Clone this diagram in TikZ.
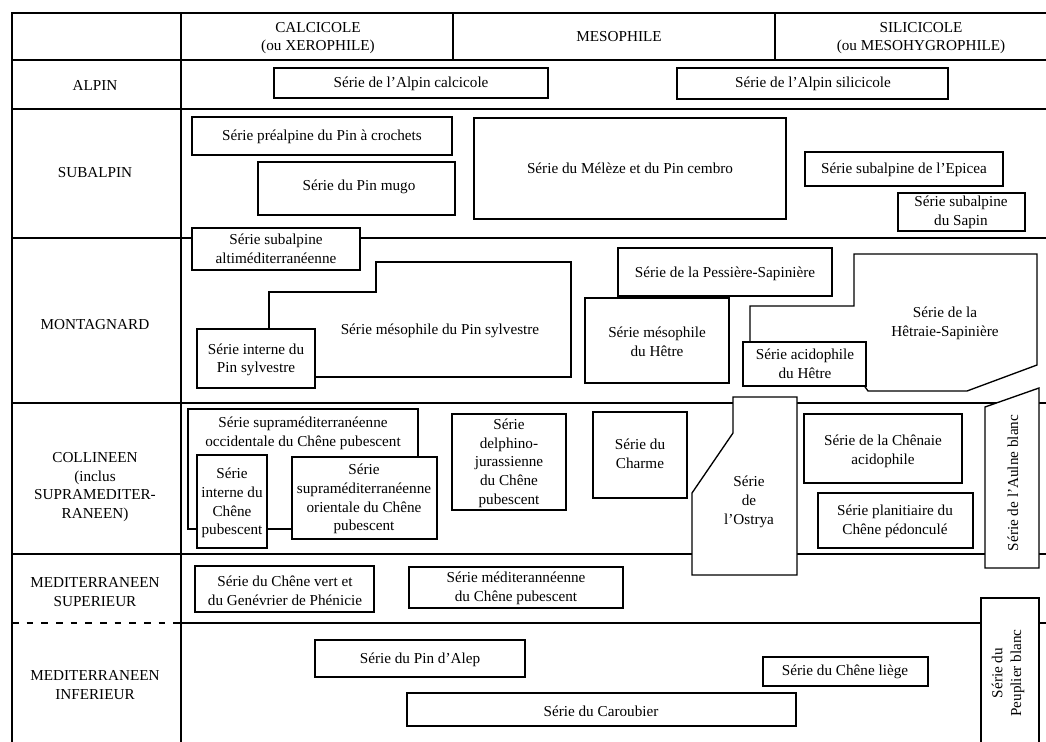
\documentclass[tikz,border=0pt]{standalone}
\usepackage{fontspec}
\setmainfont{Liberation Serif}
\usepackage{tikz}
\usetikzlibrary{calc}
\tikzset{
  cadre/.style={line width=1.6pt},
  trait/.style={line width=1pt},
  boite/.style={draw,line width=1pt,fill=white},
  txt/.style={align=center,inner sep=0pt,font=\fontsize{11.4}{14}\selectfont},
}

\begin{document}
\begin{tikzpicture}[x=0.75pt,y=-0.75pt]
\useasboundingbox (0,0) rectangle (1046,742);
%% cadre et lignes des etages
\draw[cadre] (12,742) -- (12,13) -- (1046,13);
\draw[trait] (181,13) -- (181,742);
\draw[trait] (453,13) -- (453,60);
\draw[trait] (775,13) -- (775,60);
\draw[trait] (12,60) -- (1046,60);
\draw[trait] (12,109) -- (1046,109);
\draw[trait] (12,238) -- (1046,238);
\draw[trait] (12,403) -- (1046,403);
\draw[trait] (12,554) -- (1046,554);
\draw[trait,dash pattern=on 5pt off 6pt] (12,623) -- (181,623);
\draw[trait] (181,623) -- (1046,623);
% en-tetes
\node[txt] (calcicole) at (318,38) {CALCICOLE\\(ou XEROPHILE)};
\node[txt] (mesophile) at (619,37) {MESOPHILE};
\node[txt] (silicicole) at (921,38) {SILICICOLE\\(ou MESOHYGROPHILE)};
\node[txt] (alpin) at (95,85) {ALPIN};
\node[txt] (subalpin) at (95,173) {SUBALPIN};
\node[txt] (montagnard) at (95,325) {MONTAGNARD};
\node[txt] (collineen) at (95,487) {COLLINEEN\\(inclus\\SUPRAMEDITER-\\RANEEN)};
\node[txt] (medsup) at (95,592) {MEDITERRANEEN\\SUPERIEUR};
\node[txt] (medinf) at (95,685) {MEDITERRANEEN\\INFERIEUR};
% alpin
\draw[boite] (274,68) rectangle (548,98);
\node[txt] (alpcalc) at (411,84) {Série de l’Alpin calcicole};
\draw[boite] (677,68) rectangle (948,99);
\node[txt] (alpsili) at (813,84) {Série de l’Alpin silicicole};
% subalpin
\draw[boite] (192,117) rectangle (452,155);
\node[txt] (crochets) at (322,137) {Série préalpine du Pin à crochets};
\draw[boite] (258,162) rectangle (455,215);
\node[txt] (mugo) at (359,187) {Série du Pin mugo};
\draw[boite] (474,118) rectangle (786,219);
\node[txt] (meleze) at (630,168) {Série du Mélèze et du Pin cembro};
\draw[boite] (805,152) rectangle (1003,186);
\node[txt] (epicea) at (904,170) {Série subalpine de l’Epicea};
\draw[boite] (898,193) rectangle (1025,231);
\node[txt] (sapin) at (961,212) {Série subalpine\\du Sapin};
\draw[boite] (192,228) rectangle (360,270);
\node[txt] (altimed) at (276,249) {Série subalpine\\altiméditerranéenne};
% montagnard
\draw[boite] (269,329) -- (269,292) -- (376,292) -- (376,262) -- (571,262) -- (571,377) -- (269,377) -- cycle;
\node[txt] (sylvestre) at (440,331) {Série mésophile du Pin sylvestre};
\draw[boite] (197,329) rectangle (315,388);
\node[txt] (intsylv) at (256,360) {Série interne du\\Pin sylvestre};
\draw[boite] (618,248) rectangle (832,296);
\node[txt] (pessiere) at (725,274) {Série de la Pessière-Sapinière};
\draw[boite] (585,298) rectangle (729,383);
\node[txt] (mesohetre) at (657,342) {Série mésophile\\du Hêtre};
\draw[boite] (750,340) -- (750,306) -- (854,306) -- (854,254) -- (1037,254) -- (1037,365) -- (967,391) -- (868,391) -- (863,384) -- (750,384) -- cycle;
\node[txt] (hetraie) at (945,323) {Série de la\\Hêtraie-Sapinière};
\draw[boite] (743,342) rectangle (866,386);
\node[txt] (acidohetre) at (805,364) {Série acidophile\\du Hêtre};
% collineen
\draw[boite] (188,409) rectangle (418,529);
\node[txt] (occid) at (303,433) {Série supraméditerranéenne\\occidentale du Chêne pubescent};
\draw[boite] (197,455) rectangle (267,548);
\node[txt] (intchene) at (232,503) {Série\\interne du\\Chêne\\pubescent};
\draw[boite] (292,457) rectangle (437,539);
\node[txt] (orient) at (364,499) {Série\\supraméditerranéenne\\orientale du Chêne\\pubescent};
\draw[boite] (452,414) rectangle (566,510);
\node[txt] (delphino) at (509,463) {Série\\delphino-\\jurassienne\\du Chêne\\pubescent};
\draw[boite] (593,412) rectangle (687,498);
\node[txt] (charme) at (640,454) {Série du\\Charme};
\draw[boite] (733,397) -- (797,397) -- (797,575) -- (692,575) -- (692,493) -- (733,433) -- cycle;
\node[txt] (ostrya) at (749,502) {Série\\de\\l’Ostrya};
\draw[boite] (804,414) rectangle (962,483);
\node[txt] (chenaie) at (883,451) {Série de la Chênaie\\acidophile};
\draw[boite] (818,493) rectangle (973,548);
\node[txt] (planit) at (895,521) {Série planitiaire du\\Chêne pédonculé};
\draw[boite] (985,407) -- (1039,388) -- (1039,568) -- (985,568) -- cycle;
\node[txt,rotate=90] (aulne) at (1013,483) {Série de l’Aulne blanc};
% mediterraneen superieur
\draw[boite] (195,566) rectangle (374,612);
\node[txt] (chenevert) at (285,591) {Série du Chêne vert et\\du Genévrier de Phénicie};
\draw[boite] (409,567) rectangle (623,608);
\node[txt] (medpub) at (516,588) {Série méditerannéenne\\du Chêne pubescent};
% mediterraneen inferieur
\draw[boite] (981,745) -- (981,598) -- (1039,598) -- (1039,745);
\node[txt,rotate=90] (peuplier) at (1008,673) {Série du\\Peuplier blanc};
\draw[boite] (315,640) rectangle (525,677);
\node[txt] (alep) at (420,660) {Série du Pin d’Alep};
\draw[boite] (763,657) rectangle (928,686);
\node[txt] (liege) at (845,672) {Série du Chêne liège};
\draw[boite] (407,693) rectangle (796,726);
\node[txt] (caroubier) at (601,711) {Série du Caroubier};
\end{tikzpicture}
\end{document}
